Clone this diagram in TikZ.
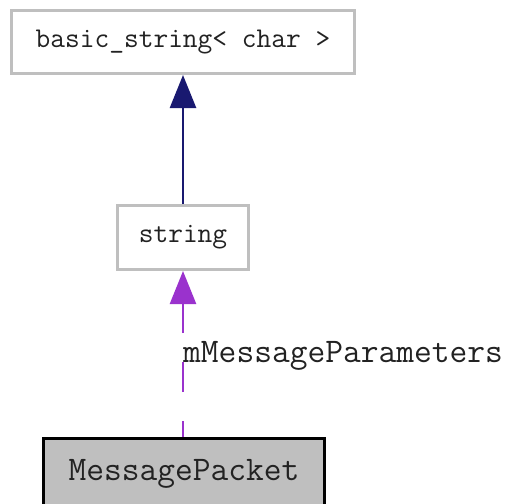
\documentclass[tikz,border=0pt]{standalone}
\usepackage{fontspec}
\usetikzlibrary{arrows.meta}
\definecolor{boxgray}{HTML}{BFBFBF}
\definecolor{inhnavy}{HTML}{191970}
\definecolor{usepurple}{HTML}{9A32CD}
\definecolor{inkgray}{HTML}{222222}
\tikzset{
  cls/.style={draw=boxgray, line width=3pt, fill=white, rectangle, inner sep=0pt,
    text=inkgray, font=\ttfamily\fontsize{28.6}{28.6}\selectfont},
  mainbox/.style={draw=black, line width=3pt, fill=boxgray, rectangle, inner sep=0pt,
    text=inkgray, font=\ttfamily\fontsize{34.5}{34.5}\selectfont},
  inh/.style={draw=inhnavy, line width=2.6pt, -{Triangle[length=33pt,width=26pt]}},
  usage/.style={draw=usepurple, line width=2.6pt, dash pattern=on 30pt off 29pt,
    dash phase=14pt, -{Triangle[length=33pt,width=26pt]}},
  edgelabel/.style={text=inkgray, font=\ttfamily\fontsize{34.5}{34.5}\selectfont,
    inner sep=0pt, anchor=base west}
}
\begin{document}
\begin{tikzpicture}[x=1pt,y=1pt]
  \useasboundingbox (0,0) rectangle (507,-504);
  \node[cls, minimum width=343pt, minimum height=63pt] (bs) at (183,-42) {basic\_string< char >};
  \node[cls, minimum width=131pt, minimum height=64pt] (str) at (183,-237.5) {string};
  \node[mainbox, minimum width=281pt, minimum height=70pt] (mp) at (184,-473.5) {MessagePacket};
  \draw[inh] (str.north) -- (bs.south);
  \draw[usage] ([xshift=-1pt]mp.north) -- (str.south);
  \node[edgelabel] (lbl) at (183,-362) {mMessageParameters};
\end{tikzpicture}
\end{document}
